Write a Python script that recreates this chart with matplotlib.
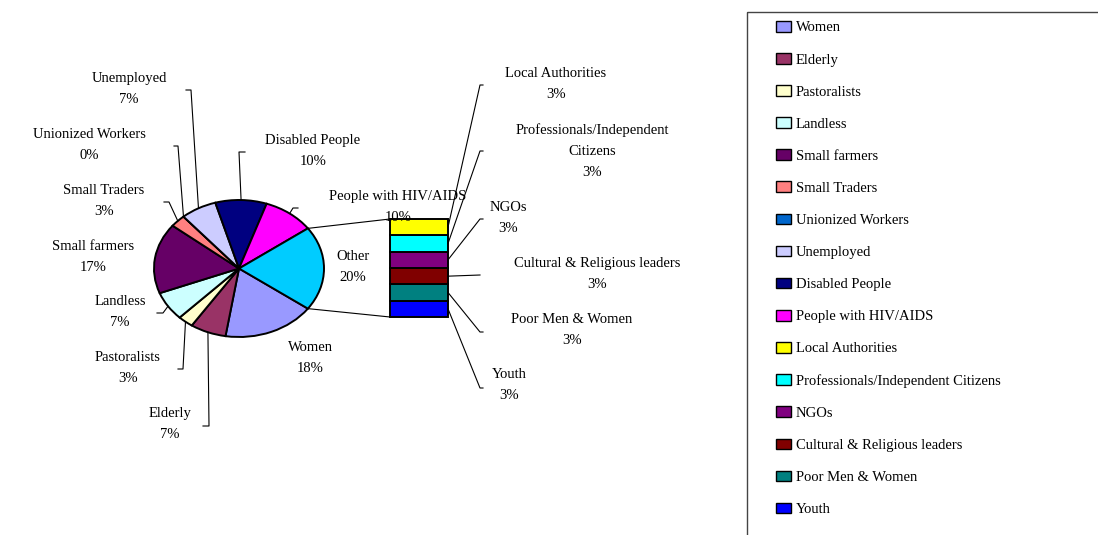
import matplotlib
matplotlib.use('Agg')
import matplotlib.pyplot as plt
from matplotlib.patches import Patch, Rectangle
import numpy as np

plt.rcParams['font.family'] = ['Liberation Serif', 'DejaVu Serif']

# ---------------- data ----------------
main_labels = ['Women', 'Elderly', 'Pastoralists', 'Landless', 'Small farmers',
               'Small Traders', 'Unionized Workers', 'Unemployed',
               'Disabled People', 'People with HIV/AIDS']
main_values = [18, 7, 3, 7, 17, 3, 0, 7, 10, 10]
main_colors = ['#9999FF', '#993366', '#FFFFCC', '#CCFFFF', '#660066',
               '#FF8080', '#0066CC', '#CCCCFF', '#000080', '#FF00FF']

other_label = 'Other'
other_color = '#00CCFF'
other_labels = ['Local Authorities', 'Professionals/Independent Citizens', 'NGOs',
                'Cultural & Religious leaders', 'Poor Men & Women', 'Youth']
other_values = [3.4, 3.4, 3.4, 3.4, 3.4, 3.4]
other_colors = ['#FFFF00', '#00FFFF', '#800080', '#800000', '#008080', '#0000FF']

# ---------------- layout (pixels) ----------------
W, H = 1098, 535
FS = 10.5
LS = 1.8
wrap = {'Professionals/Independent Citizens': 'Professionals/Independent\nCitizens'}

# label centre positions and leader knee points (pixel coords, y down)
main_text_pos = {
    'Women': (310, 358), 'Elderly': (170, 424), 'Pastoralists': (128, 368),
    'Landless': (120, 312), 'Small farmers': (93, 257), 'Small Traders': (104, 201),
    'Unionized Workers': (89, 145), 'Unemployed': (129, 89),
    'Disabled People': (313, 151), 'People with HIV/AIDS': (398, 207),
}
main_knees = {
    'Elderly': [(203, 426), (209, 426)],
    'Pastoralists': [(178, 369), (183, 369)],
    'Landless': [(157, 313), (163, 313)],
    'Small Traders': [(164, 202), (169, 202)],
    'Unionized Workers': [(174, 146), (178, 146)],
    'Unemployed': [(186, 90), (191, 90)],
    'Disabled People': [(245, 152), (239, 152)],
    'People with HIV/AIDS': [(298, 208), (293, 208)],
}
other_text_pos = {
    'Local Authorities': (556, 84),
    'Professionals/Independent Citizens': (592, 151),
    'NGOs': (508, 218),
    'Cultural & Religious leaders': (597, 274),
    'Poor Men & Women': (572, 330),
    'Youth': (509, 385),
}
other_knees = {
    'Local Authorities': [(483, 85), (480, 85)],
    'Professionals/Independent Citizens': [(483, 151), (480, 151)],
    'NGOs': [(483, 219), (480, 219)],
    'Cultural & Religious leaders': [(480, 275)],
    'Poor Men & Women': [(483, 332), (480, 332)],
    'Youth': [(483, 388), (480, 388)],
}

fig = plt.figure(figsize=(W / 100, H / 100), dpi=100)
fig.patch.set_facecolor('white')

# overlay axes in pixel coordinates
ov = fig.add_axes([0, 0, 1, 1])
ov.set_xlim(0, W)
ov.set_ylim(H, 0)
ov.axis('off')
ov.set_zorder(5)

# ---------------- pie (elliptical) ----------------
cx, cy, rx, ry = 239, 268.5, 85, 68.5
lim = 1.2
ap = fig.add_axes([(cx - lim * rx) / W, (H - cy - lim * ry) / H,
                   2 * lim * rx / W, 2 * lim * ry / H])
other_total = sum(other_values)
total = sum(main_values) + other_total
start = -180.0 * other_total / total
wedges, _ = ap.pie(main_values + [other_total], colors=main_colors + [other_color],
                   startangle=start, counterclock=False,
                   wedgeprops=dict(edgecolor='black', linewidth=1.4))
ap.set_aspect('auto')
ap.set_xlim(-lim, lim)
ap.set_ylim(-lim, lim)
ap.axis('off')

# ---------------- bar of "Other" ----------------
bx0, bx1, by0, by1 = 390, 448, 219, 317
ab = fig.add_axes([bx0 / W, (H - by1) / H, (bx1 - bx0) / W, (by1 - by0) / H])
vals_rev = other_values[::-1]
bottoms = np.concatenate([[0], np.cumsum(vals_rev)[:-1]])
bars = ab.bar([0] * len(vals_rev), vals_rev, bottom=bottoms, width=1,
              color=other_colors[::-1], edgecolor='black', linewidth=1.4)
for b in bars:
    b.set_clip_on(False)
ab.set_xlim(-0.5, 0.5)
ab.set_ylim(0, other_total)
ab.axis('off')


def to_px(ax, x, y):
    return ov.transData.inverted().transform(ax.transData.transform((x, y)))


def edge_pt(angle_deg):
    a = np.deg2rad(angle_deg)
    return to_px(ap, np.cos(a), np.sin(a))


lk = dict(color='black', linewidth=0.8)

# connector lines pie -> bar
ow = wedges[-1]
p_top = edge_pt(max(ow.theta1, ow.theta2))
p_bot = edge_pt(min(ow.theta1, ow.theta2))
b_top = to_px(ab, -0.5, other_total)
b_bot = to_px(ab, -0.5, 0)
ov.plot([p_top[0], b_top[0]], [p_top[1], b_top[1]], **lk)
ov.plot([p_bot[0], b_bot[0]], [p_bot[1], b_bot[1]], **lk)

# main labels
for lab, val, w in zip(main_labels, main_values, wedges[:-1]):
    tx, ty = main_text_pos[lab]
    ov.text(tx, ty, f"{wrap.get(lab, lab)}\n{round(val)}%", ha='center', va='center',
            fontsize=FS, linespacing=LS, multialignment='center')
    if lab in main_knees:
        mid = (w.theta1 + w.theta2) / 2.0
        p = edge_pt(mid)
        pts = main_knees[lab] + [tuple(p)]
        ov.plot([q[0] for q in pts], [q[1] for q in pts], **lk)

# Other label
ov.text(353, 267, f"{other_label}\n{round(other_total)}%", ha='center', va='center',
        fontsize=FS, linespacing=LS)

# other breakdown labels
for lab, val, bot in zip(other_labels, other_values, bottoms[::-1]):
    tx, ty = other_text_pos[lab]
    ov.text(tx, ty, f"{wrap.get(lab, lab)}\n{round(val)}%", ha='center', va='center',
            fontsize=FS, linespacing=LS, multialignment='center')
    p = to_px(ab, 0.5, bot + val / 2.0)
    pts = [tuple(p)] + other_knees[lab][::-1]
    ov.plot([q[0] for q in pts], [q[1] for q in pts], **lk)

# ---------------- legend ----------------
ov.add_patch(Rectangle((747, 12), 500, 600, fill=False, edgecolor='#444444',
                       linewidth=1.0, clip_on=False))
handles = [Patch(facecolor=c, edgecolor='black', linewidth=1.0)
           for c in main_colors + other_colors]
leg = ov.legend(handles, main_labels + other_labels, loc='upper left',
                bbox_to_anchor=(776 / W, 1 - 21 / H), bbox_transform=fig.transFigure,
                frameon=False, fontsize=FS, handlelength=1.0, handleheight=0.75,
                handletextpad=0.35, labelspacing=1.28, borderaxespad=0, borderpad=0)

fig.savefig('out.png', dpi=100, facecolor='white')
